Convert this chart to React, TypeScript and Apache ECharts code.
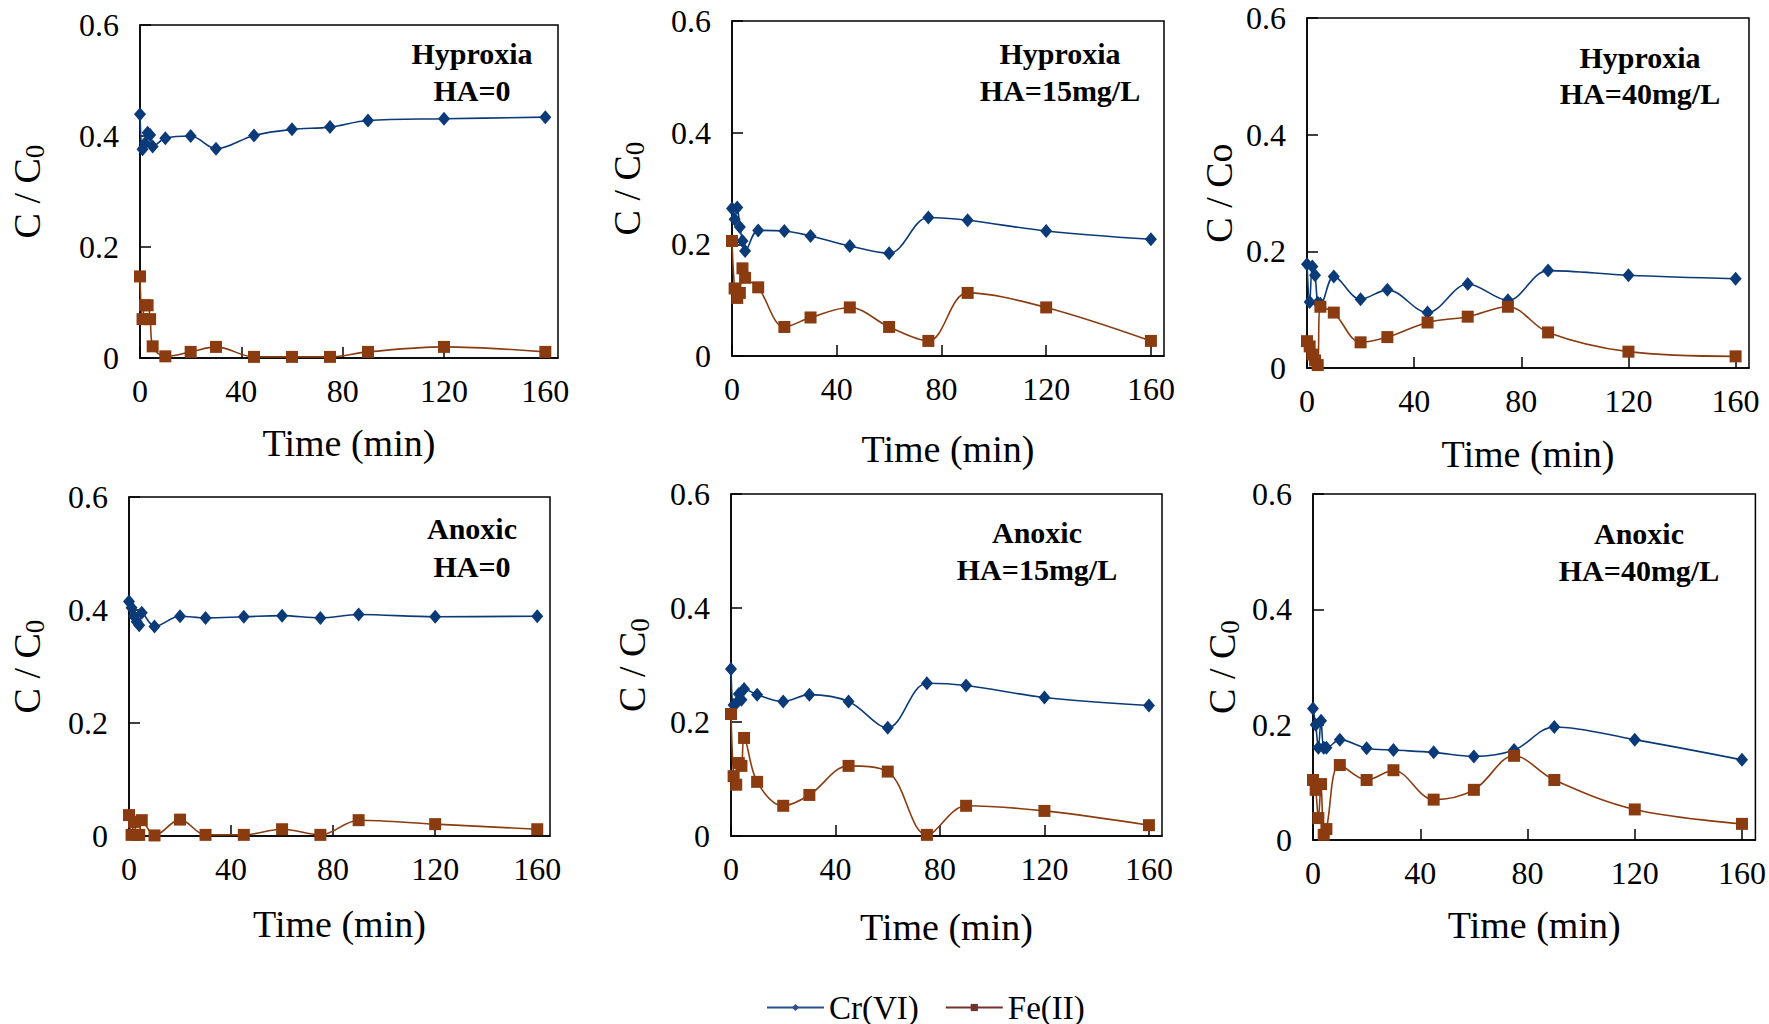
import React, { useEffect, useRef } from "react";
import * as echarts from "echarts";

// ---------------- data ----------------
const times = [0, 1, 2, 3, 4, 5, 10, 20, 30, 45, 60, 75, 90, 120, 160];

const crHypHA0 = [0.439, 0.376, 0.387, 0.406, 0.402, 0.381, 0.396, 0.4, 0.377, 0.401, 0.412, 0.416, 0.428, 0.431, 0.434];
const feHypHA0 = [0.147, 0.07, 0.095, 0.095, 0.07, 0.021, 0.003, 0.011, 0.02, 0.002, 0.002, 0.002, 0.011, 0.02, 0.011];

const crHypHA15 = [0.264, 0.245, 0.266, 0.231, 0.206, 0.188, 0.225, 0.224, 0.215, 0.197, 0.184, 0.248, 0.243, 0.224, 0.209];
const feHypHA15 = [0.206, 0.121, 0.104, 0.113, 0.157, 0.14, 0.123, 0.052, 0.069, 0.087, 0.052, 0.027, 0.113, 0.087, 0.027];

const crHypHA40 = [0.178, 0.113, 0.174, 0.159, 0.112, 0.11, 0.157, 0.118, 0.134, 0.095, 0.144, 0.116, 0.167, 0.159, 0.153];
const feHypHA40 = [0.046, 0.037, 0.023, 0.013, 0.005, 0.105, 0.095, 0.044, 0.053, 0.078, 0.088, 0.105, 0.061, 0.028, 0.02];

const crAnoHA0 = [0.415, 0.404, 0.389, 0.379, 0.373, 0.395, 0.371, 0.389, 0.386, 0.388, 0.39, 0.386, 0.392, 0.388, 0.389];
const feAnoHA0 = [0.037, 0.002, 0.025, 0.002, 0.002, 0.028, 0.001, 0.029, 0.002, 0.002, 0.012, 0.002, 0.028, 0.021, 0.012];

const crAnoHA15 = [0.293, 0.23, 0.233, 0.249, 0.239, 0.258, 0.248, 0.236, 0.248, 0.236, 0.19, 0.268, 0.264, 0.243, 0.229];
const feAnoHA15 = [0.214, 0.105, 0.09, 0.128, 0.123, 0.172, 0.095, 0.053, 0.072, 0.123, 0.113, 0.002, 0.053, 0.044, 0.019];

const crAnoHA40 = [0.228, 0.2, 0.16, 0.207, 0.16, 0.16, 0.174, 0.159, 0.156, 0.152, 0.145, 0.156, 0.196, 0.174, 0.139];
const feAnoHA40 = [0.104, 0.087, 0.038, 0.097, 0.009, 0.019, 0.13, 0.104, 0.121, 0.07, 0.087, 0.146, 0.104, 0.053, 0.028];

const crSets = [crHypHA0, crHypHA15, crHypHA40, crAnoHA0, crAnoHA15, crAnoHA40];
const feSets = [feHypHA0, feHypHA15, feHypHA40, feAnoHA0, feAnoHA15, feAnoHA40];

const titleLine1 = ["Hyproxia", "Hyproxia", "Hyproxia", "Anoxic", "Anoxic", "Anoxic"];
const titleLine2 = ["HA=0", "HA=15mg/L", "HA=40mg/L", "HA=0", "HA=15mg/L", "HA=40mg/L"];
const yNames = ["{a|C / C}{b|0}", "{a|C / C}{b|0}", "C / Co", "{a|C / C}{b|0}", "{a|C / C}{b|0}", "{a|C / C}{b|0}"];

const xTicks = [0, 40, 80, 120, 160];
const yTicks = [0, 0.2, 0.4, 0.6];
const seriesNames = ["Cr(VI)", "Fe(II)"];

// ---------------- layout ----------------
const grids = [
  { left: 136, top: 25, width: 422, height: 333 },
  { left: 732, top: 21, width: 432, height: 335 },
  { left: 1307, top: 18, width: 442, height: 350 },
  { left: 123, top: 497, width: 427, height: 339 },
  { left: 731, top: 494, width: 431, height: 342 },
  { left: 1313, top: 494, width: 444, height: 346 },
];
const xNameGaps = [66, 74, 67, 69, 72, 66];
const yNameGaps = [92, 84, 69, 81, 78, 70];
const titlePos = [
  { x: 472, y1: 53, y2: 90 },
  { x: 1060, y1: 53, y2: 90 },
  { x: 1640, y1: 57, y2: 93 },
  { x: 472, y1: 528, y2: 566 },
  { x: 1037, y1: 532, y2: 569 },
  { x: 1639, y1: 533, y2: 570 },
];

const FONT = '"Liberation Serif", "Times New Roman", serif';
const CR_COLOR = "#0b3a78";
const FE_COLOR = "#8a3b10";

export default function App() {
  const ref = useRef<HTMLDivElement>(null);

  useEffect(() => {
    if (!ref.current) return;
    const chart = echarts.init(ref.current, undefined, { renderer: "svg" });

    const xAxis = grids.map((_, i) => ({
      gridIndex: i,
      type: "value",
      min: 0,
      max: 165,
      interval: 40,
      splitLine: { show: false },
      axisLine: { show: true, lineStyle: { color: "#000", width: 1.5 } },
      axisTick: { show: true, inside: true, length: 11, customValues: xTicks, lineStyle: { color: "#000", width: 1.5 } },
      axisLabel: { customValues: xTicks, margin: 17, fontSize: 32, fontFamily: FONT, color: "#000" },
      name: "Time (min)",
      nameLocation: "middle",
      nameGap: xNameGaps[i],
      nameTextStyle: { fontSize: 38, fontFamily: FONT, color: "#000" },
    }));

    const yAxis = grids.map((_, i) => ({
      gridIndex: i,
      type: "value",
      min: 0,
      max: 0.6,
      interval: 0.2,
      splitLine: { show: false },
      axisLine: { show: true, lineStyle: { color: "#000", width: 1.5 } },
      axisTick: { show: true, inside: true, length: 11, customValues: yTicks, lineStyle: { color: "#000", width: 1.5 } },
      axisLabel: {
        customValues: yTicks,
        margin: 21,
        fontSize: 32,
        lineHeight: 26,
        fontFamily: FONT,
        color: "#000",
        formatter: (v: number) => (v === 0 ? "0" : v.toFixed(1)),
      },
      name: yNames[i],
      nameLocation: "middle",
      nameGap: yNameGaps[i],
      nameTextStyle: {
        fontSize: 38,
        fontFamily: FONT,
        color: "#000",
        rich: {
          a: { fontSize: 38, fontFamily: FONT, color: "#000", lineHeight: 40, verticalAlign: "top" },
          b: { fontSize: 27, fontFamily: FONT, color: "#000", lineHeight: 28, verticalAlign: "bottom", padding: [20, 0, 0, 0] },
        },
      },
    }));

    const series: any[] = [];
    grids.forEach((_, i) => {
      series.push({
        name: seriesNames[0],
        type: "line",
        xAxisIndex: i,
        yAxisIndex: i,
        data: times.map((t, j) => [t, crSets[i][j]]),
        smooth: 0.35,
        symbol: "diamond",
        symbolSize: [12, 14],
        itemStyle: { color: CR_COLOR },
        lineStyle: { color: CR_COLOR, width: 1.6 },
        z: 3,
      });
      series.push({
        name: seriesNames[1],
        type: "line",
        xAxisIndex: i,
        yAxisIndex: i,
        data: times.map((t, j) => [t, feSets[i][j]]),
        smooth: 0.35,
        symbol: "rect",
        symbolSize: 12,
        itemStyle: { color: FE_COLOR },
        lineStyle: { color: FE_COLOR, width: 1.6 },
        z: 4,
      });
    });

    const graphic: any[] = [];
    titlePos.forEach((p, i) => {
      graphic.push({
        type: "text",
        x: p.x,
        y: p.y1,
        style: { text: titleLine1[i], fontSize: 30, fontWeight: "bold", fontFamily: FONT, fill: "#000", align: "center", verticalAlign: "middle" },
      });
      graphic.push({
        type: "text",
        x: p.x,
        y: p.y2,
        style: { text: titleLine2[i], fontSize: 30, fontWeight: "bold", fontFamily: FONT, fill: "#000", align: "center", verticalAlign: "middle" },
      });
    });

    chart.setOption({
      animation: false,
      backgroundColor: "#fff",
      grid: grids.map((g) => ({ ...g, show: true, borderColor: "#000", borderWidth: 1.5, backgroundColor: "transparent" })),
      xAxis,
      yAxis,
      series,
      graphic,
      legend: {
        left: 761,
        top: 986,
        itemWidth: 57,
        itemHeight: 9,
        itemGap: 26,
        textStyle: { fontSize: 33, lineHeight: 33, fontFamily: FONT, color: "#000" },
        data: [
          { name: seriesNames[0], itemStyle: { color: "#2c4f8f" }, lineStyle: { color: "#2c4f8f", width: 2 } },
          { name: seriesNames[1], itemStyle: { color: "#74302f" }, lineStyle: { color: "#74302f", width: 2 } },
        ],
      },
    });

    return () => chart.dispose();
  }, []);

  return <div ref={ref} style={{ position: "absolute", left: 0, top: 0, width: 1769, height: 1024 }} />;
}
